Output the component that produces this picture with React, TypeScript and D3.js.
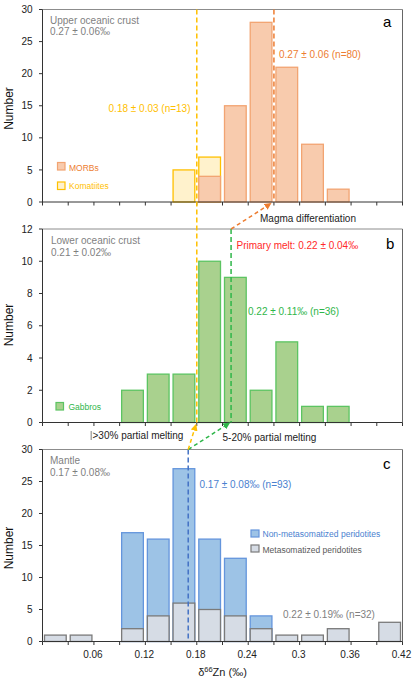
import React from 'react';
import * as d3 from 'd3';

// ---------- data ----------
const binWidth = 0.03;
const morbBins = [0.18, 0.21, 0.24, 0.27, 0.30, 0.33];
const morbCounts = [4, 15, 28, 21, 9, 2];
const komatiiteBins = [0.15, 0.18];
const komatiiteCounts = [5, 7];
const gabbroBins = [0.09, 0.12, 0.15, 0.18, 0.21, 0.24, 0.27, 0.30, 0.33];
const gabbroCounts = [2, 3, 3, 10, 9, 2, 5, 1, 1];
const nonMetaBins = [0.09, 0.12, 0.15, 0.18, 0.21, 0.24];
const nonMetaCounts = [17, 16, 27, 16, 13, 4];
const metaBins = [0.0, 0.03, 0.09, 0.12, 0.15, 0.18, 0.21, 0.24, 0.27, 0.30, 0.33, 0.39];
const metaCounts = [1, 1, 2, 4, 6, 5, 4, 2, 1, 1, 2, 3];

const xMajorTicks = [0.06, 0.12, 0.18, 0.24, 0.3, 0.36, 0.42];
const xTickLabels = ['0.06', '0.12', '0.18', '0.24', '0.3', '0.36', '0.42'];
const xMinorTicks = [0, 0.03, 0.06, 0.09, 0.12, 0.15, 0.18, 0.21, 0.24, 0.27, 0.3, 0.33, 0.36, 0.39, 0.42];
const yTicksA = [0, 5, 10, 15, 20, 25, 30];
const yTicksB = [0, 2, 4, 6, 8, 10, 12];
const yTicksC = [0, 5, 10, 15, 20, 25, 30];

const komatiiteMean = 0.18;
const morbMean = 0.27;
const gabbroMean = 0.22;
const mantleMean = 0.17;

// ---------- layout ----------
const FONT = 'Liberation Sans, Arial, sans-serif';
const x = d3.scaleLinear().domain([0, 0.42]).range([42.5, 402.5]);
const yA = d3.scaleLinear().domain([0, 30]).range([202, 9.5]);
const yB = d3.scaleLinear().domain([0, 12]).range([422.5, 229]);
const yC = d3.scaleLinear().domain([0, 30]).range([641.5, 449.5]);

const C = {
  morbFill: '#f8cbad', morbStroke: '#f2a472', orange: '#ed7d31',
  komFill: '#fff2cc', komStroke: '#ffc000', yellow: '#ffc000',
  gabFill: '#a9d18e', gabStroke: '#5cc462', green: '#2fb64a',
  blueFill: '#9dc3e6', blueStroke: '#6495dc', blue: '#4a7fcf', blueDash: '#4472c4',
  greyFill: '#d6dce5', greyStroke: '#7a7a7a', greyText: '#7f7f7f',
  red: '#ff2a2a',
};

function Bars({ bins, counts, y, fill, stroke }: any) {
  return (
    <g>
      {bins.map((b: number, i: number) => (
        <rect key={i}
          x={x(b) + 2}
          y={y(counts[i])}
          width={x(b + binWidth) - x(b) - 4}
          height={y(0) - y(counts[i])}
          fill={fill} stroke={stroke} strokeWidth={1.3} />
      ))}
    </g>
  );
}

function Axes({ y, ticks, showLabels, labelY }: any) {
  const [y0, y1] = y.range();
  return (
    <g fontFamily={FONT}>
      <line x1={x(0)} x2={x(0.42)} y1={y1} y2={y1} stroke="#8c8c8c" strokeWidth={1} />
      <line x1={x(0.42)} x2={x(0.42)} y1={y1} y2={y0} stroke="#666" strokeWidth={1} />
      <line x1={x(0)} x2={x(0)} y1={y1} y2={y0} stroke="#333" strokeWidth={1} />
      <line x1={x(0)} x2={x(0.42)} y1={y0} y2={y0} stroke="#333" strokeWidth={1} />
      {ticks.map((t: number) => (
        <g key={t}>
          <line x1={x(0) - 3.5} x2={x(0)} y1={y(t)} y2={y(t)} stroke="#333" />
          <text x={32.5} y={y(t) + 3.6} fontSize={10} textAnchor="end" fill="#222">{t}</text>
        </g>
      ))}
      {xMinorTicks.map((t: number) => (
        <line key={t} x1={x(t)} x2={x(t)} y1={y0} y2={y0 + 3.5} stroke="#333" />
      ))}
      {showLabels && xMajorTicks.map((t: number, i: number) => (
        <text key={t} x={x(t) - 1} y={657.5} fontSize={10} textAnchor="middle" fill="#222">{xTickLabels[i]}</text>
      ))}
      <text transform={`translate(13,${labelY}) rotate(-90)`} fontSize={12} textAnchor="middle" fill="#111">Number</text>
    </g>
  );
}

export default function App() {
  const aTop = yA.range()[1], aBot = yA.range()[0];
  const bTop = yB.range()[1], bBot = yB.range()[0];
  const cTop = yC.range()[1], cBot = yC.range()[0];
  return (
    <svg width={415} height={681} style={{ position: 'absolute', left: 0, top: 0, background: '#fff' }}
      fontFamily={FONT}>
      <defs>
        {[['arrO', C.orange], ['arrG', C.green], ['arrY', C.yellow]].map(([id, col]) => (
          <marker key={id} id={id} viewBox="0 0 10 10" refX={9} refY={5} markerWidth={7} markerHeight={7}
            markerUnits="userSpaceOnUse" orient="auto">
            <path d="M0,0 L10,5 L0,10 z" fill={col} />
          </marker>
        ))}
      </defs>
      <rect x={0} y={0} width={415} height={681} fill="#fff" />

      {/* Panel a */}
      <Bars bins={komatiiteBins} counts={komatiiteCounts} y={yA} fill={C.komFill} stroke={C.komStroke} />
      <Bars bins={morbBins} counts={morbCounts} y={yA} fill={C.morbFill} stroke={C.morbStroke} />
      <Axes y={yA} ticks={yTicksA} showLabels={false} labelY={108.5} />
      <text x={50} y={23.5} fontSize={10} fill={C.greyText}>Upper oceanic crust</text>
      <text x={50} y={35} fontSize={10} fill={C.greyText}>0.27 ± 0.06‰</text>
      <text x={383} y={27} fontSize={15} fill="#000">a</text>
      <text x={279} y={58} fontSize={10} fill={C.orange}>0.27 ± 0.06 (n=80)</text>
      <text x={190.5} y={111.5} fontSize={10} fill={C.yellow} textAnchor="end">0.18 ± 0.03 (n=13)</text>
      <rect x={57.5} y={162.5} width={7.5} height={7.5} fill={C.morbFill} stroke={C.morbStroke} strokeWidth={1.2} />
      <text x={69} y={170.5} fontSize={8.5} fill={C.orange}>MORBs</text>
      <rect x={57.5} y={182} width={7.5} height={7.5} fill={C.komFill} stroke={C.komStroke} strokeWidth={1.2} />
      <text x={69} y={188.5} fontSize={8.5} fill={C.yellow}>Komatiites</text>
      <line x1={x(morbMean)} x2={x(morbMean)} y1={aTop} y2={aBot} stroke={C.orange} strokeWidth={1.5} strokeDasharray="5,3" />

      {/* Panel b */}
      <Bars bins={gabbroBins} counts={gabbroCounts} y={yB} fill={C.gabFill} stroke={C.gabStroke} />
      <Axes y={yB} ticks={yTicksB} showLabels={false} labelY={325} />
      <text x={51} y={244} fontSize={10} fill={C.greyText}>Lower oceanic crust</text>
      <text x={51} y={256} fontSize={10} fill={C.greyText}>0.21 ± 0.02‰</text>
      <text x={386} y={248.5} fontSize={15} fill="#000">b</text>
      <text x={236.5} y={249} fontSize={10} fill={C.red}>Primary melt: 0.22 ± 0.04‰</text>
      <text x={248} y={315} fontSize={10} fill={C.green}>0.22 ± 0.11‰ (n=36)</text>
      <rect x={56} y={402.5} width={7.5} height={7.5} fill={C.gabFill} stroke={C.gabStroke} strokeWidth={1.2} />
      <text x={68.5} y={410} fontSize={8.5} fill={C.green}>Gabbros</text>
      <line x1={x(gabbroMean)} x2={x(gabbroMean)} y1={bTop} y2={bBot} stroke={C.green} strokeWidth={1.5} strokeDasharray="5,3" />
      <text x={260} y={222} fontSize={10} fill="#222">Magma differentiation</text>

      {/* yellow line across a and b */}
      <line x1={x(komatiiteMean)} x2={x(komatiiteMean)} y1={aTop} y2={bBot} stroke={C.yellow} strokeWidth={1.5} strokeDasharray="5,3" />

      {/* Panel c */}
      <Bars bins={nonMetaBins} counts={nonMetaCounts} y={yC} fill={C.blueFill} stroke={C.blueStroke} />
      <Bars bins={metaBins} counts={metaCounts} y={yC} fill={C.greyFill} stroke={C.greyStroke} />
      <Axes y={yC} ticks={yTicksC} showLabels={true} labelY={548} />
      <text x={50} y={463.5} fontSize={10} fill={C.greyText}>Mantle</text>
      <text x={50} y={475.5} fontSize={10} fill={C.greyText}>0.17 ± 0.08‰</text>
      <text x={383} y={469} fontSize={15} fill="#000">c</text>
      <text x={199.5} y={487.5} fontSize={10} fill={C.blue}>0.17 ± 0.08‰ (n=93)</text>
      <rect x={251} y={530} width={8} height={7} fill={C.blueFill} stroke={C.blueStroke} strokeWidth={1.2} />
      <text x={262.5} y={537} fontSize={8.5} fill={C.blue}>Non-metasomatized peridotites</text>
      <rect x={251} y={545} width={8} height={7} fill={C.greyFill} stroke={C.greyStroke} strokeWidth={1.2} />
      <text x={262.5} y={552.5} fontSize={8.5} fill="#595959">Metasomatized peridotites</text>
      <text x={283} y={617.5} fontSize={10} fill={C.greyText}>0.22 ± 0.19‰ (n=32)</text>
      <line x1={x(mantleMean)} x2={x(mantleMean)} y1={cTop} y2={cBot} stroke={C.blueDash} strokeWidth={1.5} strokeDasharray="5,3" />
      <text x={222.5} y={676} fontSize={11} textAnchor="middle" fill="#222">
        δ<tspan fontSize={7.5} dy={-4}>66</tspan><tspan dy={4}>Zn (‰)</tspan>
      </text>

      {/* between-panel labels and arrows */}
      <rect x={90.5} y={431} width={1.5} height={9} fill="#aaa" />
      <text x={92.5} y={438.5} fontSize={10} fill="#222">&gt;30% partial melting</text>
      <text x={222.5} y={441} fontSize={10} fill="#222">5-20% partial melting</text>
      <line x1={x(gabbroMean)} y1={bTop} x2={x(morbMean) - 3} y2={aBot + 1.5}
        stroke={C.orange} strokeWidth={1.5} strokeDasharray="4,3" markerEnd="url(#arrO)" />
      <line x1={x(mantleMean)} y1={cTop} x2={x(gabbroMean) - 1.5} y2={bBot + 0.5}
        stroke={C.green} strokeWidth={1.5} strokeDasharray="4,3" markerEnd="url(#arrG)" />
      <line x1={x(mantleMean)} y1={cTop} x2={x(komatiiteMean) - 0.8} y2={bBot + 2}
        stroke={C.yellow} strokeWidth={1.5} strokeDasharray="4,3" markerEnd="url(#arrY)" />
    </svg>
  );
}
